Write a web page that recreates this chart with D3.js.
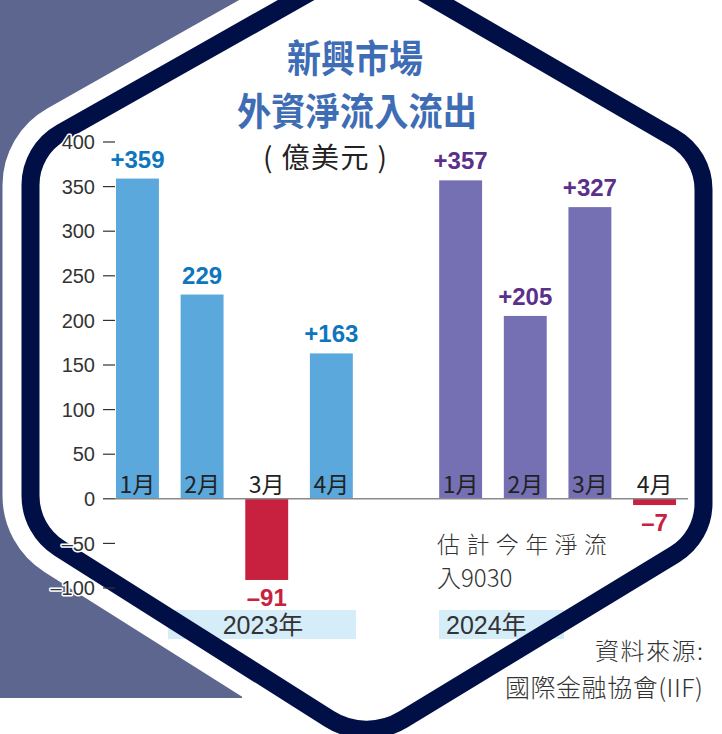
<!DOCTYPE html>
<html><head><meta charset="utf-8">
<script src="https://cdn.jsdelivr.net/npm/d3@7"></script>
<style>
html,body{margin:0;padding:0;background:#fff;}
svg{display:block;}
</style></head>
<body>
<script>
// ---- data ----
const months = ["1月","2月","3月","4月"];
const years = ["2023年","2024年"];
const flows2023 = [359, 229, -91, 163];
const flows2024 = [357, 205, 327, -7];
const labels2023 = ["+359","229","–91","+163"];
const labels2024 = ["+357","+205","+327","–7"];
const yTicks = [400,350,300,250,200,150,100,50,0,-50,-100];
const yTickLabels = ["400","350","300","250","200","150","100","50","0","–50","–100"];
const titleLines = ["新興市場","外資淨流入流出"];
const unitText = "( 億美元 )";
const noteLines = ["估計今年淨流","入9030"];
const sourceLines = ["資料來源:","國際金融協會(IIF)"];

// ---- layout ----
const W = 722, H = 734;
const svg = d3.select("body").append("svg").attr("width", W).attr("height", H);

const CJK = "'Noto Sans CJK TC','Noto Sans CJK SC',sans-serif";
const NUM = "'Liberation Sans',Arial,'Noto Sans CJK TC',sans-serif";

// slate background block
svg.append("rect").attr("x",0).attr("y",0).attr("width",242).attr("height",698).attr("fill","#5D668F");

// hexagon path with rounded corners
const verts = [[367,-40,60],[703.5,155,60],[703.5,537,60],[366,742,70],[30.5,530,62],[30.5,150,60]];
function hexPath(){
  const p = d3.path();
  const n = verts.length;
  const a = verts[n-1], b = verts[0];
  p.moveTo((a[0]+b[0])/2,(a[1]+b[1])/2);
  for(let i=0;i<n;i++){
    const v = verts[i], nx = verts[(i+1)%n];
    p.arcTo(v[0],v[1],nx[0],nx[1],v[2]);
  }
  p.closePath();
  return p.toString();
}
const hp = hexPath();
svg.append("path").attr("d",hp).attr("fill","#fff").attr("stroke","#fff").attr("stroke-width",56).attr("stroke-linejoin","round");

// scales
const slots = months.map(m=>"a"+m).concat(["gap"]).concat(months.map(m=>"b"+m));
const x = d3.scaleBand().domain(slots).range([116,676]).paddingInner(0.336).paddingOuter(0);
const y = d3.scaleLinear().domain([-100,400]).range([588,142]);

// year bands
svg.append("rect").attr("x",168).attr("y",610).attr("width",188).attr("height",29).attr("fill","#D5ECF9");
svg.append("rect").attr("x",439).attr("y",610).attr("width",125).attr("height",29).attr("fill","#D5ECF9");

// ticks
const gAxis = svg.append("g");
gAxis.selectAll("line.tk").data(yTicks).join("line").attr("class","tk")
  .attr("x1",103).attr("x2",115).attr("y1",d=>y(d)).attr("y2",d=>y(d))
  .attr("stroke","#333").attr("stroke-width",1.2);

// bars
const bars = [];
months.forEach((m,i)=>bars.push({key:"a"+m, m, v:flows2023[i], lab:labels2023[i], grp:0}));
months.forEach((m,i)=>bars.push({key:"b"+m, m, v:flows2024[i], lab:labels2024[i], grp:1}));
const barCol = d=> d.v<0 ? "#C8213F" : (d.grp===0 ? "#5BA8DC" : "#7570B3");
const labCol = d=> d.v<0 ? "#C8213F" : (d.grp===0 ? "#0E76BD" : "#5B2F8A");

svg.append("g").selectAll("rect").data(bars).join("rect")
  .attr("x",d=>x(d.key)).attr("width",x.bandwidth())
  .attr("y",d=>y(Math.max(0,d.v))).attr("height",d=>Math.abs(y(d.v)-y(0)))
  .attr("fill",barCol);

// zero line
svg.append("line").attr("x1",115).attr("x2",688).attr("y1",y(0)).attr("y2",y(0))
  .attr("stroke","#8a8a8a").attr("stroke-width",1.5);

// border
svg.append("path").attr("d",hp).attr("fill","none").attr("stroke","#000F45").attr("stroke-width",18).attr("stroke-linejoin","round");

// tick labels
gAxis.raise();
svg.append("g").selectAll("text").data(yTicks).join("text")
  .attr("x",95).attr("y",d=>y(d)).attr("dy","0.36em").attr("text-anchor","end")
  .attr("font-family",NUM).attr("font-size",20).attr("fill","#333")
  .attr("stroke","#fff").attr("stroke-width",3).attr("paint-order","stroke").attr("stroke-linejoin","round")
  .text((d,i)=>yTickLabels[i]);

// value labels
svg.append("g").selectAll("text").data(bars).join("text")
  .attr("x",d=>x(d.key)+x.bandwidth()/2)
  .attr("y",d=> d.v>=0 ? y(d.v)-11 : y(d.v)+26)
  .attr("text-anchor","middle").attr("font-family",NUM).attr("font-weight","bold")
  .attr("font-size",24).attr("fill",labCol).text(d=>d.lab);

// month labels
svg.append("g").selectAll("text").data(bars).join("text")
  .attr("x",d=>x(d.key)+x.bandwidth()/2).attr("y",493)
  .attr("text-anchor","middle").attr("font-family",CJK).attr("font-size",23).attr("fill","#222")
  .text(d=>d.m);

// year labels
svg.append("text").attr("x",263).attr("y",634).attr("text-anchor","middle")
  .attr("font-family",NUM).attr("font-size",25).attr("fill","#333").text(years[0]);
svg.append("text").attr("x",446).attr("y",634).attr("text-anchor","start")
  .attr("font-family",NUM).attr("font-size",25).attr("fill","#333").text(years[1]);

// title
svg.append("text").attr("x",355).attr("y",72).attr("text-anchor","middle")
  .attr("font-family",CJK).attr("font-weight",700).attr("font-size",38).attr("fill","#3E6DB5")
  .attr("textLength",136).attr("lengthAdjust","spacingAndGlyphs").text(titleLines[0]);
svg.append("text").attr("x",357).attr("y",125).attr("text-anchor","middle")
  .attr("font-family",CJK).attr("font-weight",700).attr("font-size",38).attr("fill","#3E6DB5")
  .attr("textLength",240).attr("lengthAdjust","spacingAndGlyphs").text(titleLines[1]);
svg.append("text").attr("x",325).attr("y",168).attr("text-anchor","middle")
  .attr("font-family",CJK).attr("font-size",28).attr("fill","#222")
  .attr("textLength",124).attr("lengthAdjust","spacing").text(unitText);

// note
svg.append("text").attr("x",437).attr("y",553)
  .attr("font-family",CJK).attr("font-weight",300).attr("font-size",23).attr("fill","#333")
  .attr("textLength",170).attr("lengthAdjust","spacing").text(noteLines[0]);
svg.append("text").attr("x",437).attr("y",587)
  .attr("font-family",CJK).attr("font-weight",300).attr("font-size",24).attr("fill","#333")
  .text(noteLines[1]);

// source
svg.append("text").attr("x",703).attr("y",660).attr("text-anchor","end")
  .attr("font-family",CJK).attr("font-weight",300).attr("font-size",24).attr("fill","#333")
  .attr("textLength",108).attr("lengthAdjust","spacing").text(sourceLines[0]);
svg.append("text").attr("x",703).attr("y",697).attr("text-anchor","end")
  .attr("font-family",CJK).attr("font-weight",300).attr("font-size",25).attr("fill","#333")
  .attr("textLength",198).attr("lengthAdjust","spacing").text(sourceLines[1]);
</script>
</body></html>
